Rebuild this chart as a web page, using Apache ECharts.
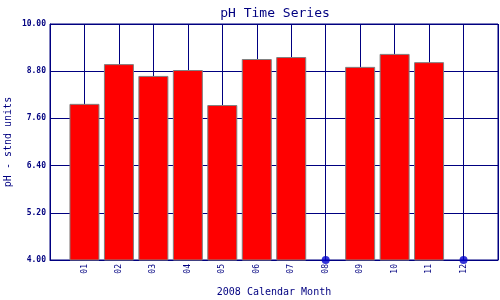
<!DOCTYPE html>
<html><head><meta charset="utf-8">
<script src="https://cdn.jsdelivr.net/npm/echarts@6/dist/echarts.min.js"></script>
<style>html,body{margin:0;padding:0;background:#fff}#c{width:500px;height:300px}</style>
</head><body><div id="c"></div>
<script>
const months = [1,2,3,4,5,6,7,8,9,10,11,12];
const phValues = [7.97, 8.98, 8.68, 8.83, 7.94, 9.11, 9.16, null, 8.91, 9.24, 9.03, null];
const yTicks = [4.0, 5.2, 6.4, 7.6, 8.8, 10.0];
const navy = '#000080';
const font = 'DejaVu Sans Mono';

const barData = [];
const missingData = [];
months.forEach((m, i) => {
  if (phValues[i] == null) missingData.push([m, yTicks[0]]);
  else barData.push([m, phValues[i]]);
});

const chart = echarts.init(document.getElementById('c'), null, {renderer: 'canvas'});
chart.setOption({
  animation: false,
  backgroundColor: '#fff',
  title: {
    text: 'pH Time Series', left: 270, top: 2, textAlign: 'center',
    textStyle: {fontFamily: font, fontSize: 13, fontWeight: 'normal', color: navy}
  },
  grid: {left: 50, right: 2, top: 24, bottom: 40, show: true, borderColor: navy, borderWidth: 1,
         containLabel: false, outerBoundsMode: 'none'},
  xAxis: {
    type: 'value', min: 0, max: 13, interval: 1,
    name: '2008 Calendar Month', nameLocation: 'middle', nameGap: 27, nameMoveOverlap: false,
    nameTextStyle: {fontFamily: font, fontSize: 10, color: navy},
    axisLine: {lineStyle: {color: navy, width: 1}},
    axisTick: {show: false},
    splitLine: {show: true, lineStyle: {color: navy, width: 1}},
    axisLabel: {
      rotate: 90, margin: 4, fontFamily: font, fontSize: 8, color: navy,
      formatter: v => (v >= 1 && v <= 12) ? String(v).padStart(2, '0') : ''
    }
  },
  yAxis: {
    type: 'value', min: 4, max: 10, interval: 1.2,
    name: 'pH - stnd units', nameLocation: 'middle', nameGap: 37, nameMoveOverlap: false,
    nameTextStyle: {fontFamily: font, fontSize: 10, color: navy},
    axisLine: {show: true, lineStyle: {color: navy, width: 1}},
    axisTick: {show: false},
    splitLine: {show: true, lineStyle: {color: navy, width: 1}},
    axisLabel: {
      margin: 4, fontFamily: font, fontSize: 8, fontWeight: 'bold', color: navy,
      formatter: v => v.toFixed(2)
    }
  },
  series: [
    {
      type: 'bar', data: barData, barWidth: 30,
      itemStyle: {color: '#ff0000', borderColor: '#808080', borderWidth: 1}
    },
    {
      type: 'scatter', data: missingData, symbol: 'circle', symbolSize: 8, clip: false,
      itemStyle: {color: '#0000cc'}
    }
  ]
});
</script></body></html>
